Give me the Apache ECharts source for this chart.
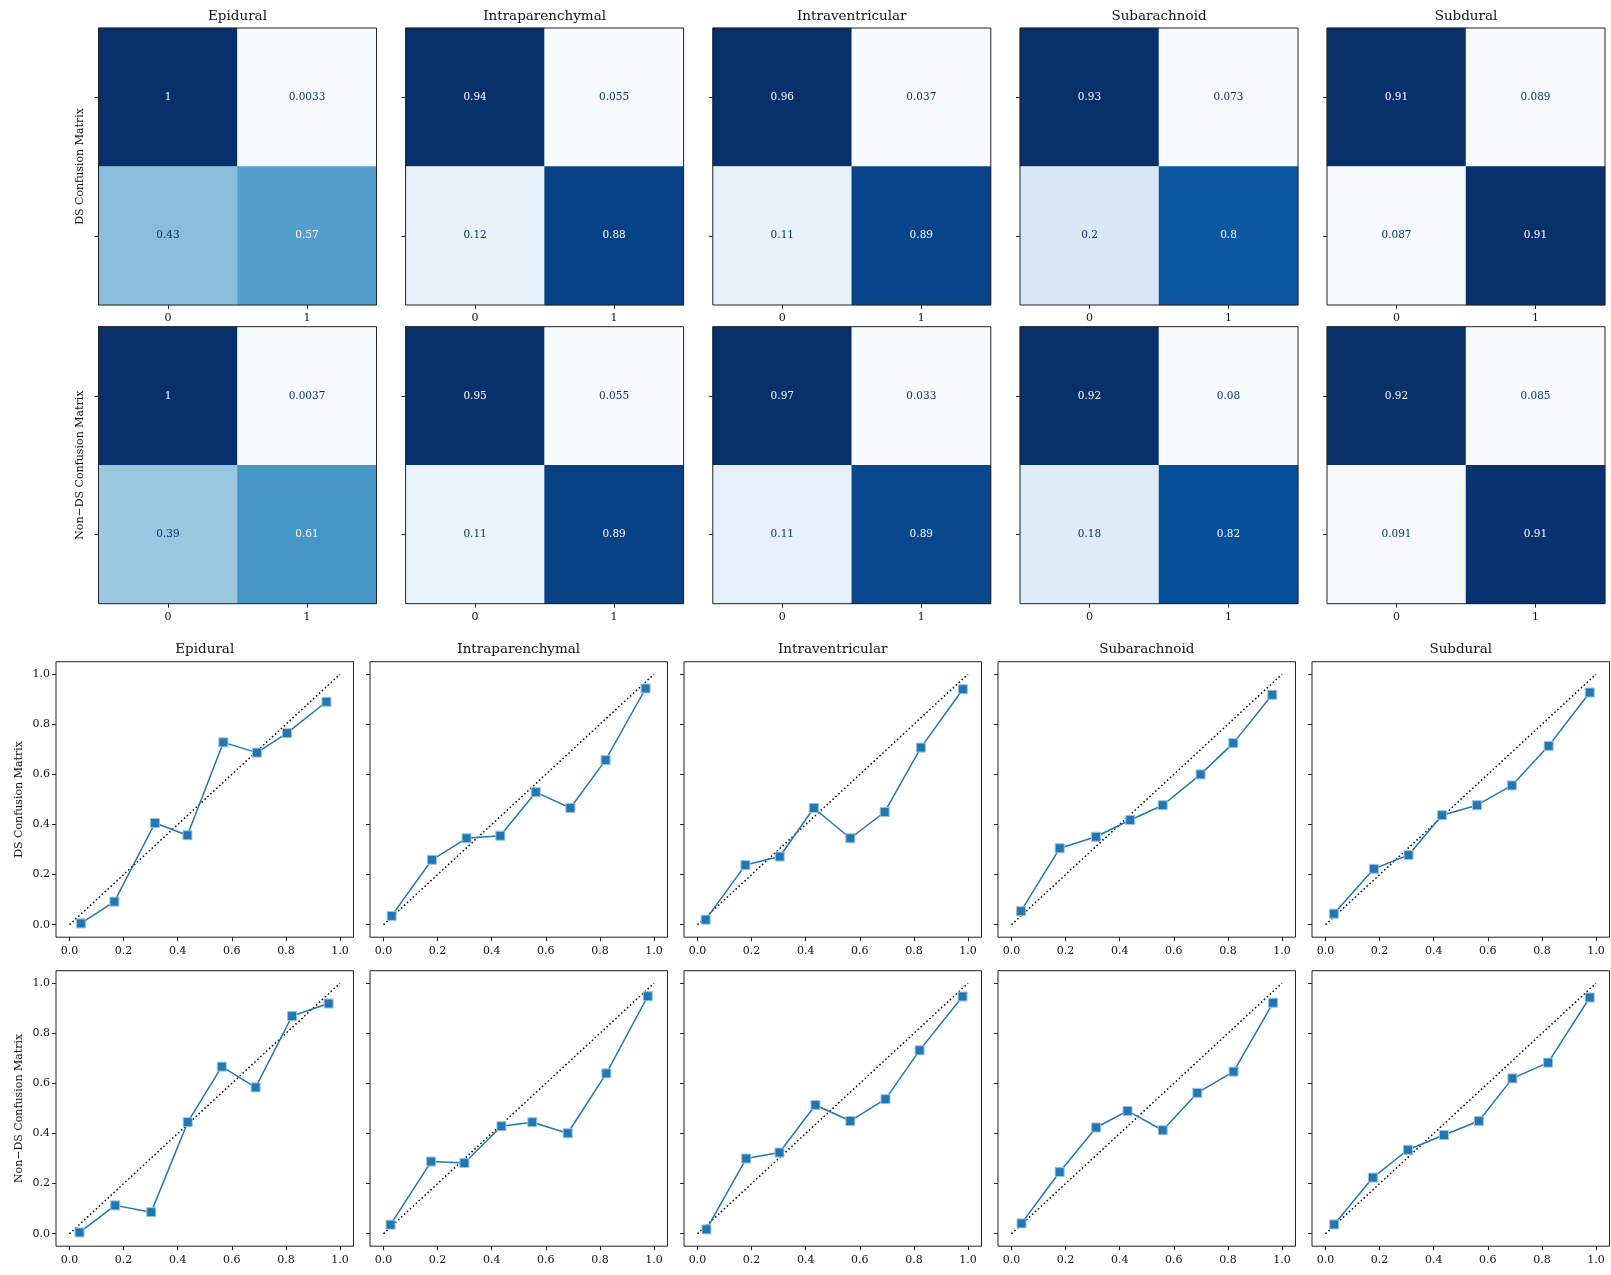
<!DOCTYPE html>
<html>
<head>
<meta charset="utf-8">
<title>Hemorrhage subtype confusion matrices and calibration curves</title>
<script src="https://cdn.jsdelivr.net/npm/echarts@6/dist/echarts.min.js"></script>
<style>
  html, body { margin: 0; padding: 0; background: #ffffff; }
  #chart { width: 1611px; height: 1275px; }
</style>
</head>
<body>
<div id="chart"></div>
<script>
// ---------- data ----------
const subtypes = ['Epidural', 'Intraparenchymal', 'Intraventricular', 'Subarachnoid', 'Subdural'];
const rowNames = ['DS Confusion Matrix', 'Non\u2212DS Confusion Matrix'];
const classLabels = ['0', '1'];

// normalized confusion matrices, rows = true class, columns = predicted class
const dsEpidural         = [[1, 0.0033], [0.43, 0.57]];
const dsIntraparenchymal = [[0.94, 0.055], [0.12, 0.88]];
const dsIntraventricular = [[0.96, 0.037], [0.11, 0.89]];
const dsSubarachnoid     = [[0.93, 0.073], [0.2, 0.8]];
const dsSubdural         = [[0.91, 0.089], [0.087, 0.91]];

const nonDsEpidural         = [[1, 0.0037], [0.39, 0.61]];
const nonDsIntraparenchymal = [[0.95, 0.055], [0.11, 0.89]];
const nonDsIntraventricular = [[0.97, 0.033], [0.11, 0.89]];
const nonDsSubarachnoid     = [[0.92, 0.08], [0.18, 0.82]];
const nonDsSubdural         = [[0.92, 0.085], [0.091, 0.91]];

// calibration curves: mean predicted probability (x) vs fraction of positives (y)
const dsEpiduralX = [0.042, 0.166, 0.316, 0.436, 0.569, 0.693, 0.804, 0.950];
const dsEpiduralY = [0.005, 0.092, 0.406, 0.357, 0.728, 0.687, 0.765, 0.890];
const dsIntraparenchymalX = [0.030, 0.179, 0.307, 0.432, 0.563, 0.691, 0.821, 0.969];
const dsIntraparenchymalY = [0.035, 0.259, 0.345, 0.355, 0.529, 0.466, 0.657, 0.943];
const dsIntraventricularX = [0.030, 0.177, 0.304, 0.430, 0.565, 0.692, 0.826, 0.981];
const dsIntraventricularY = [0.020, 0.238, 0.272, 0.466, 0.345, 0.450, 0.707, 0.940];
const dsSubarachnoidX = [0.035, 0.178, 0.312, 0.439, 0.559, 0.699, 0.820, 0.964];
const dsSubarachnoidY = [0.054, 0.305, 0.351, 0.418, 0.477, 0.600, 0.725, 0.918];
const dsSubduralX = [0.031, 0.179, 0.307, 0.431, 0.560, 0.689, 0.825, 0.977];
const dsSubduralY = [0.044, 0.223, 0.278, 0.437, 0.477, 0.556, 0.714, 0.927];

const nonDsEpiduralX = [0.037, 0.169, 0.302, 0.437, 0.563, 0.688, 0.823, 0.958];
const nonDsEpiduralY = [0.005, 0.113, 0.086, 0.445, 0.667, 0.584, 0.869, 0.919];
const nonDsIntraparenchymalX = [0.026, 0.176, 0.299, 0.436, 0.550, 0.681, 0.824, 0.977];
const nonDsIntraparenchymalY = [0.036, 0.288, 0.282, 0.429, 0.445, 0.401, 0.640, 0.948];
const nonDsIntraventricularX = [0.033, 0.180, 0.303, 0.436, 0.565, 0.695, 0.821, 0.980];
const nonDsIntraventricularY = [0.017, 0.300, 0.324, 0.514, 0.450, 0.537, 0.732, 0.947];
const nonDsSubarachnoidX = [0.037, 0.178, 0.313, 0.429, 0.559, 0.687, 0.821, 0.967];
const nonDsSubarachnoidY = [0.041, 0.246, 0.424, 0.490, 0.413, 0.562, 0.647, 0.922];
const nonDsSubduralX = [0.032, 0.175, 0.305, 0.438, 0.567, 0.691, 0.823, 0.977];
const nonDsSubduralY = [0.037, 0.224, 0.335, 0.394, 0.450, 0.620, 0.683, 0.943];

// reference line of a perfectly calibrated model
const perfectCalibration = [[0, 0], [1, 1]];
const calibrationTicks = [0, 0.2, 0.4, 0.6, 0.8, 1.0];

// ---------- assembly ----------
const matrices = [
  [dsEpidural, dsIntraparenchymal, dsIntraventricular, dsSubarachnoid, dsSubdural],
  [nonDsEpidural, nonDsIntraparenchymal, nonDsIntraventricular, nonDsSubarachnoid, nonDsSubdural]
];
const curves = [
  [[dsEpiduralX, dsEpiduralY], [dsIntraparenchymalX, dsIntraparenchymalY], [dsIntraventricularX, dsIntraventricularY],
   [dsSubarachnoidX, dsSubarachnoidY], [dsSubduralX, dsSubduralY]],
  [[nonDsEpiduralX, nonDsEpiduralY], [nonDsIntraparenchymalX, nonDsIntraparenchymalY], [nonDsIntraventricularX, nonDsIntraventricularY],
   [nonDsSubarachnoidX, nonDsSubarachnoidY], [nonDsSubduralX, nonDsSubduralY]]
];

const FONT = 'DejaVu Serif';
const BLUES = ['#f7fbff', '#deebf7', '#c6dbef', '#9ecae1', '#6baed6', '#4292c6', '#2171b5', '#08519c', '#08306b'];
const FRAME = '#222222';
const CURVE = '#1f77b4';

// panel placement (pixels)
const heatLeft = [98.5, 405.6, 712.8, 1020, 1327];
const heatTop = [28, 326.7];
const heatW = 278, heatH = 277;
const calLeft = [56, 370, 684, 998, 1312];
const calTop = [661.7, 970.7];
const calW = 297.5, calH = 275.5;

const grid = [], xAxis = [], yAxis = [], series = [], visualMap = [], title = [];

// confusion matrix panels
for (let r = 0; r < 2; r++) {
  for (let c = 0; c < 5; c++) {
    const k = grid.length;
    const m = matrices[r][c];
    const flat = m.flat();
    const vmin = Math.min(...flat), vmax = Math.max(...flat);
    const thresh = (vmin + vmax) / 2;
    grid.push({
      left: heatLeft[c], top: heatTop[r], width: heatW, height: heatH,
      show: true, borderColor: FRAME, borderWidth: 1, backgroundColor: 'transparent', z: 10
    });
    xAxis.push({
      type: 'category', gridIndex: k, data: classLabels,
      axisLine: { show: false, onZero: false },
      axisTick: { show: true, alignWithLabel: true, length: 4, lineStyle: { color: FRAME } },
      axisLabel: { fontFamily: FONT, fontSize: 11, color: '#111', margin: 8 },
      splitLine: { show: false }
    });
    yAxis.push({
      type: 'category', gridIndex: k, data: classLabels, inverse: true,
      axisLine: { show: false, onZero: false },
      axisTick: { show: true, alignWithLabel: true, length: 4, lineStyle: { color: FRAME } },
      axisLabel: { show: false },
      splitLine: { show: false },
      name: c === 0 ? rowNames[r] : '',
      nameLocation: 'middle', nameRotate: 90, nameGap: 13,
      nameTextStyle: { fontFamily: FONT, fontSize: 11, color: '#111' }
    });
    const cells = [];
    for (let i = 0; i < 2; i++) {
      for (let j = 0; j < 2; j++) {
        const v = m[i][j];
        cells.push({
          value: [j, i, v],
          label: { color: v < thresh ? BLUES[8] : BLUES[0] }
        });
      }
    }
    visualMap.push({
      type: 'continuous', show: false, seriesIndex: series.length,
      min: vmin, max: vmax, dimension: 2,
      inRange: { color: BLUES }
    });
    series.push({
      type: 'heatmap', xAxisIndex: k, yAxisIndex: k, data: cells,
      label: {
        show: true, fontFamily: FONT, fontSize: 10.5,
        formatter: p => String(p.value[2])
      },
      itemStyle: { borderWidth: 0 },
      emphasis: { disabled: true }
    });
    if (r === 0) {
      title.push({
        text: subtypes[c], left: heatLeft[c] + heatW / 2, top: 9, textAlign: 'center', padding: 0,
        textStyle: { fontFamily: FONT, fontSize: 13.5, fontWeight: 'normal', color: '#111' }
      });
    }
  }
}

// calibration panels
for (let r = 0; r < 2; r++) {
  for (let c = 0; c < 5; c++) {
    const k = grid.length;
    const [xs, ys] = curves[r][c];
    grid.push({
      left: calLeft[c], top: calTop[r], width: calW, height: calH,
      show: true, borderColor: FRAME, borderWidth: 1, backgroundColor: 'transparent', z: 10
    });
    xAxis.push({
      type: 'value', gridIndex: k, min: -0.05, max: 1.05,
      axisLine: { show: false, onZero: false },
      axisTick: { show: true, length: 4, customValues: calibrationTicks, lineStyle: { color: FRAME } },
      axisLabel: {
        fontFamily: FONT, fontSize: 11, color: '#111', margin: 8,
        customValues: calibrationTicks, formatter: v => v.toFixed(1)
      },
      splitLine: { show: false }
    });
    yAxis.push({
      type: 'value', gridIndex: k, min: -0.05, max: 1.05,
      axisLine: { show: false, onZero: false },
      axisTick: { show: true, length: 4, customValues: calibrationTicks, lineStyle: { color: FRAME } },
      axisLabel: {
        show: c === 0, fontFamily: FONT, fontSize: 11, color: '#111', margin: 6,
        customValues: calibrationTicks, formatter: v => v.toFixed(1)
      },
      splitLine: { show: false },
      name: c === 0 ? rowNames[r] : '',
      nameLocation: 'middle', nameRotate: 90, nameGap: 31,
      nameTextStyle: { fontFamily: FONT, fontSize: 11, color: '#111' }
    });
    series.push({
      type: 'line', xAxisIndex: k, yAxisIndex: k, data: perfectCalibration,
      symbol: 'none', silent: true, z: 2,
      lineStyle: { color: '#000000', width: 1.5, type: [1.5, 2.5] }
    });
    series.push({
      type: 'line', xAxisIndex: k, yAxisIndex: k,
      data: xs.map((x, i) => [x, ys[i]]),
      symbol: 'rect', symbolSize: 9, z: 3,
      lineStyle: { color: CURVE, width: 1.5 },
      itemStyle: { color: CURVE, borderColor: '#9cc3e0', borderWidth: 1 },
      emphasis: { disabled: true }
    });
    if (r === 0) {
      title.push({
        text: subtypes[c], left: calLeft[c] + calW / 2, top: 642, textAlign: 'center', padding: 0,
        textStyle: { fontFamily: FONT, fontSize: 13.5, fontWeight: 'normal', color: '#111' }
      });
    }
  }
}

const chart = echarts.init(document.getElementById('chart'), null, { renderer: 'canvas' });
chart.setOption({
  backgroundColor: '#ffffff',
  animation: false,
  title, grid, xAxis, yAxis, visualMap, series
});
</script>
</body>
</html>
